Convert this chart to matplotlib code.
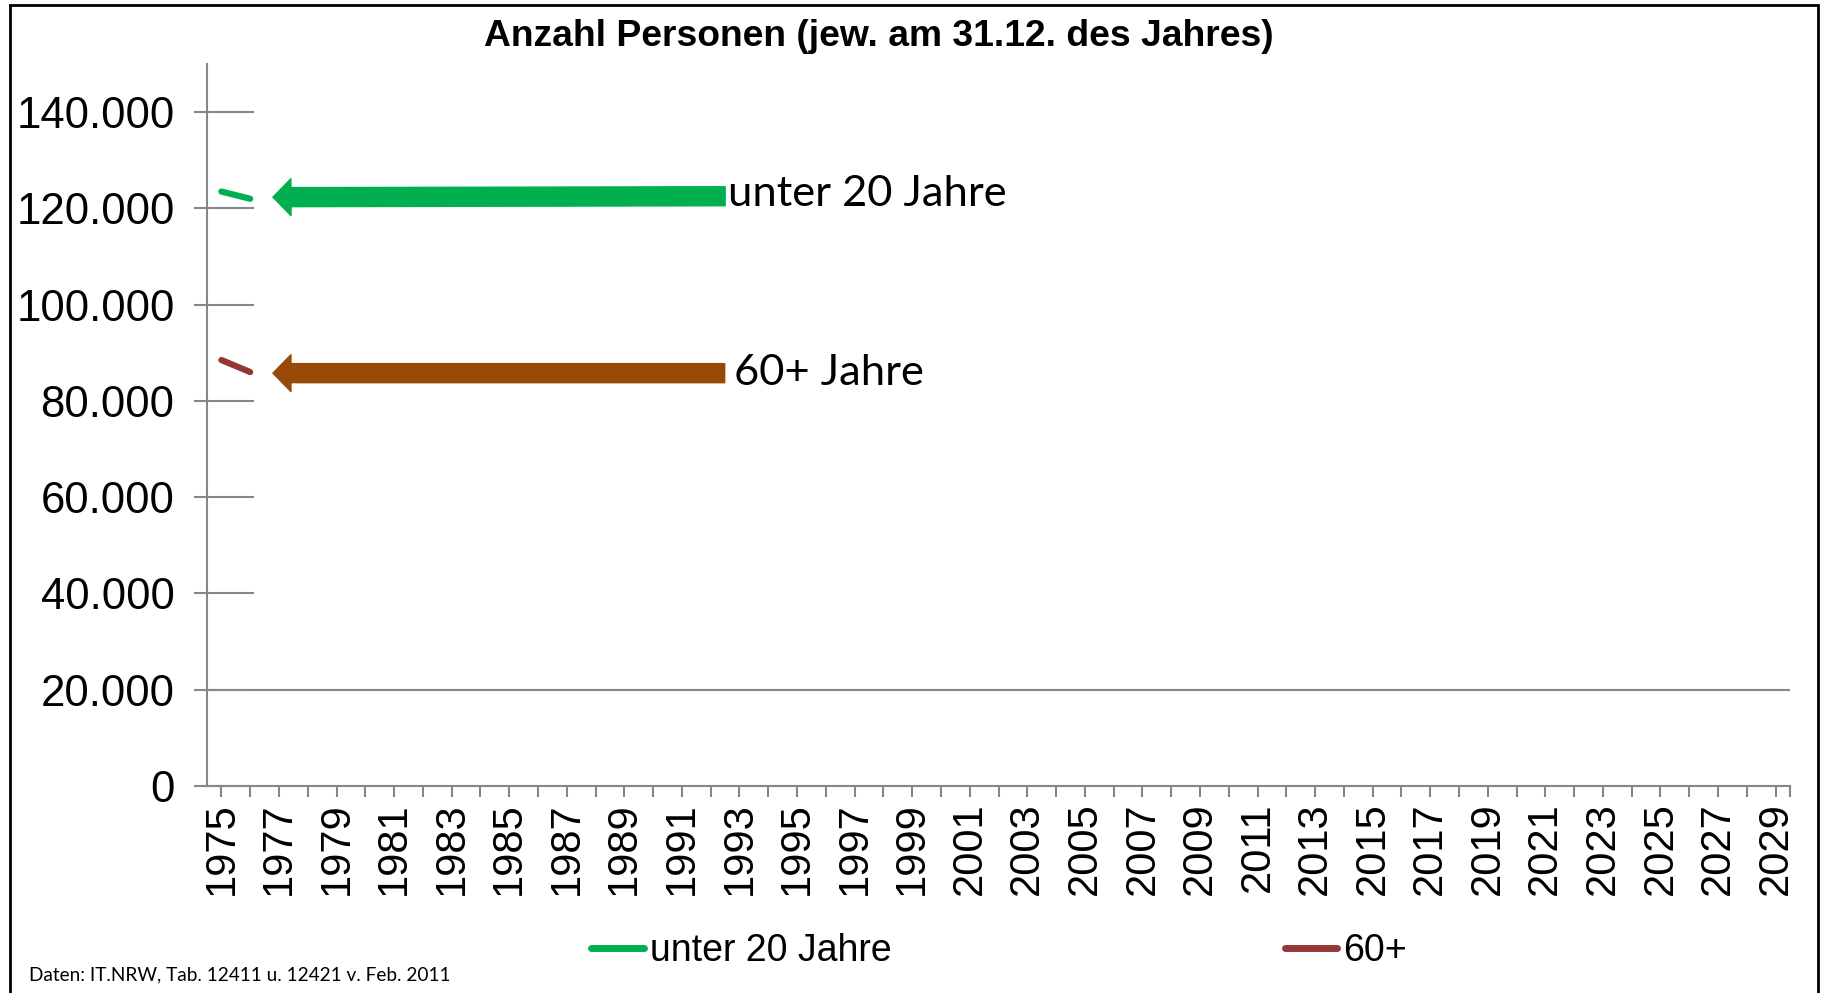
import matplotlib.pyplot as plt
from matplotlib.patches import Rectangle, ArrowStyle
from matplotlib.ticker import FuncFormatter

# Daten (nur die ersten zwei Jahre sind in der Grafik gefüllt)
years = list(range(1975, 2030))
data_years = [1975, 1976]
unter20 = [123500, 122000]
ueber60 = [88500, 86000]
yticks = [0, 20000, 40000, 60000, 80000, 100000, 120000, 140000]

GREEN = '#00B050'
RED = '#953735'
BROWN = '#984807'
GREY = '#868686'

fig = plt.figure(figsize=(18.21, 9.93), dpi=100)
ax = fig.add_axes([207/1821, 1-786/993, (1790-207)/1821, (786-64)/993])

ax.plot(data_years, unter20, color=GREEN, lw=4.5, solid_capstyle='round', label='unter 20 Jahre')
ax.plot(data_years, ueber60, color=RED, lw=4.5, solid_capstyle='round', label='60+')

ax.set_xlim(years[0]-0.5, years[-1]+0.5)
ax.set_ylim(0, 150000)

for s in ['top', 'right']:
    ax.spines[s].set_visible(False)
for s in ['left', 'bottom']:
    ax.spines[s].set_color(GREY)
    ax.spines[s].set_linewidth(1.5)

ax.axhline(20000, color=GREY, lw=1.5, zorder=0)

ax.set_yticks(yticks)
ax.yaxis.set_major_formatter(FuncFormatter(lambda v, p: f'{int(v):,}'.replace(',', '.')))
ax.yaxis.remove_overlapping_locs = False
ax.set_yticks(yticks, minor=True)
ax.tick_params(axis='y', which='major', direction='out', length=9.4, width=1.5, color=GREY,
               labelsize=31.5, pad=14)
ax.tick_params(axis='y', which='minor', direction='in', length=34, width=1.5, color=GREY)

ax.set_xticks(years)
ax.set_xticklabels([str(y) if (y - 1975) % 2 == 0 else '' for y in years], rotation=90)
ax.set_xticks([years[-1]+0.5], minor=True)
ax.tick_params(axis='x', which='both', direction='out', length=8, width=1.5, color=GREY,
               labelsize=30, pad=3.6)

for t in ax.get_xticklabels() + ax.get_yticklabels():
    t.set_fontfamily('Liberation Sans')

# Pfeile mit Beschriftung
ax.annotate('unter 20 Jahre', xy=(1976.79, 122330), xytext=(1992.6, 123000),
            ha='left', va='center', fontsize=31.3, family='Lato',
            arrowprops=dict(arrowstyle=ArrowStyle.Simple(head_length=13, head_width=26.6, tail_width=13.7),
                            mutation_scale=1, color=GREEN, shrinkA=0, shrinkB=0, relpos=(0, 0.44)))
ax.annotate('60+ Jahre', xy=(1976.79, 85770), xytext=(1992.8, 85770),
            ha='left', va='center', fontsize=31.3, family='Lato',
            arrowprops=dict(arrowstyle=ArrowStyle.Simple(head_length=13, head_width=26.6, tail_width=13.7),
                            mutation_scale=1, color=BROWN, shrinkA=4.5, shrinkB=0, relpos=(0, 0.5)))

fig.text(879/1821, 1-36/993, 'Anzahl Personen (jew. am 31.12. des Jahres)', ha='center', va='center',
         fontsize=26.8, fontweight='bold', family='Liberation Sans')

leg = ax.legend(loc='center left', bbox_to_anchor=(591/1821, 1-951/993), bbox_transform=fig.transFigure,
                ncol=2, frameon=False, borderpad=0, borderaxespad=0, handlelength=1.4,
                handletextpad=0.16, columnspacing=10.5, prop={'family': 'Liberation Sans', 'size': 27})
for h in leg.get_lines():
    h.set_linewidth(5)
    h.set_solid_capstyle('round')

fig.text(29/1821, 1-975/993, 'Daten: IT.NRW, Tab. 12411 u. 12421 v. Feb. 2011', ha='left', va='center',
         fontsize=13.7, family='Lato')

fig.patches.append(Rectangle((10/1821, -0.05), (1818-10)/1821, 1.05-5/993, transform=fig.transFigure,
                             fill=False, edgecolor='black', lw=2, figure=fig))

fig.savefig('out.png', dpi=100)
